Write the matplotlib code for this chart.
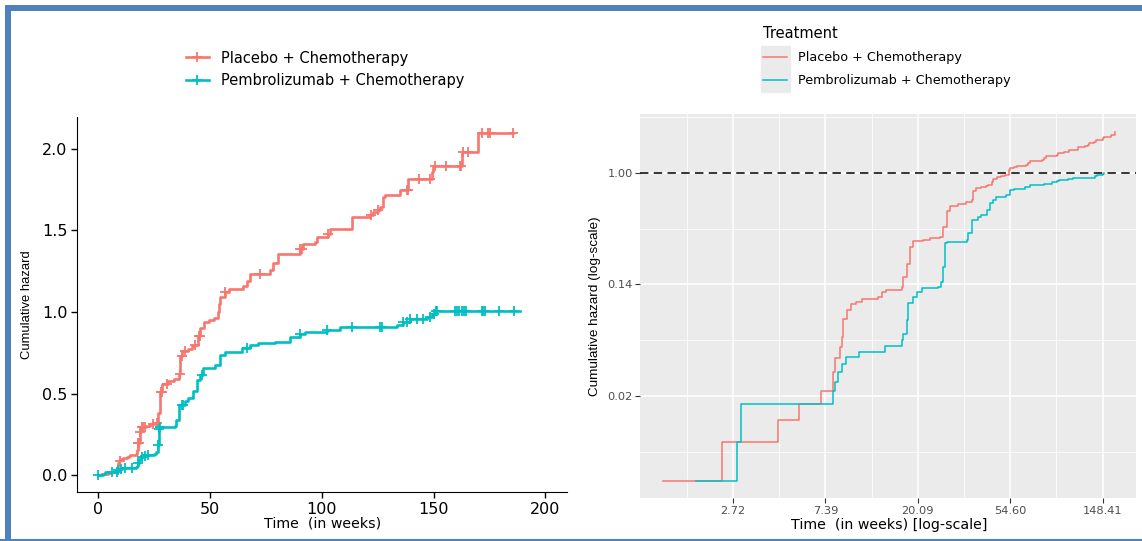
import numpy as np
import matplotlib
matplotlib.use('Agg')
import matplotlib.pyplot as plt
from matplotlib.lines import Line2D
from matplotlib.patches import Rectangle
from matplotlib.ticker import NullFormatter

plt.rcParams['font.family'] = 'DejaVu Sans'
narrow = ['Liberation Sans Narrow', 'Liberation Sans', 'DejaVu Sans']

red = '#F8766D'
teal = '#00BFC4'
labels = ['Placebo + Chemotherapy', 'Pembrolizumab + Chemotherapy']

# event times (weeks) and cumulative hazard just after each event
placebo_t = [1.28, 2.41, 4.41, 5.53, 7.07, 8.0, 8.22, 8.66, 8.82, 8.97, 9.3, 9.77,
             10.25, 10.97, 13.0, 13.6, 14.3, 16.9, 17.2, 17.8, 18.5, 19.1, 21.3,
             22.9, 25.5, 26.5, 27.5, 28.5, 31.0, 34.0, 36.0, 36.6, 37.5, 40.0,
             42.0, 43.1, 44.7, 45.5, 47.2, 49.5, 51.5, 53.6, 54.0, 54.4, 56.6,
             58.5, 64.5, 66.5, 67.8, 76.8, 78.3, 80.5, 90.2, 91.7, 96.9, 97.7,
             102.9, 103.6, 113.3, 121.5, 123.0, 125.3, 126.0, 127.5, 128.2,
             135.0, 138.7, 149.2, 149.9, 162.6, 169.7]
placebo_h = [0.004, 0.008, 0.012, 0.016, 0.020, 0.028, 0.036, 0.044, 0.053, 0.073,
             0.086, 0.095, 0.099, 0.104, 0.108, 0.118, 0.123, 0.13, 0.154, 0.195,
             0.264, 0.297, 0.30, 0.312, 0.32, 0.378, 0.508, 0.556, 0.575, 0.59,
             0.62, 0.73, 0.76, 0.775, 0.79, 0.80, 0.85, 0.90, 0.936, 0.953, 0.965,
             1.00, 1.05, 1.09, 1.12, 1.14, 1.16, 1.19, 1.235, 1.256, 1.30, 1.358,
             1.388, 1.419, 1.43, 1.46, 1.48, 1.511, 1.583, 1.593, 1.613, 1.624,
             1.644, 1.706, 1.72, 1.75, 1.818, 1.859, 1.894, 1.98, 2.10]
pembro_t = [1.83, 2.83, 2.98, 8.05, 8.22, 8.46, 8.82, 9.23, 10.66, 14.06, 16.9,
            17.2, 17.8, 18.1, 19.1, 19.9, 21.0, 25.0, 25.9, 26.5, 26.9, 27.4,
            34.1, 34.7, 36.0, 38.7, 40.0, 42.4, 43.9, 45.3, 46.8, 52.3, 54.2,
            56.6, 64.1, 67.8, 71.5, 79.0, 85.7, 90.2, 92.4, 102.1, 108.1, 133.5,
            136.4, 139.4, 146.9, 149.2, 150.6]
pembro_h = [0.004, 0.008, 0.016, 0.020, 0.0237, 0.028, 0.0325, 0.037, 0.0405,
            0.045, 0.050, 0.056, 0.072, 0.0965, 0.109, 0.119, 0.126, 0.13, 0.142,
            0.186, 0.283, 0.292, 0.30, 0.339, 0.43, 0.457, 0.471, 0.515, 0.58,
            0.616, 0.654, 0.674, 0.737, 0.757, 0.777, 0.80, 0.812, 0.818, 0.847,
            0.867, 0.877, 0.892, 0.908, 0.918, 0.939, 0.959, 0.969, 0.99, 1.005]
# censoring times (weeks)
placebo_cens = [9.6, 17.8, 18.3, 18.8, 19.3, 20.1, 20.8, 24.5, 26.0, 27.8, 28.3,
                30.5, 36.5, 37.2, 38.7, 43.2, 44.9, 45.4, 56.6, 72.3, 90.2, 91.0,
                102.9, 122.0, 125.3, 138.0, 138.5, 143.3, 148.4, 150.5, 155.7,
                161.8, 162.3, 163.3, 165.5, 171.5, 174.5, 175.2, 185.7]
pembro_cens = [0.0, 5.9, 8.1, 8.7, 10.2, 12.0, 14.9, 17.8, 19.3, 20.8, 22.3, 26.7,
               27.0, 27.5, 37.2, 38.0, 46.2, 66.3, 90.2, 102.1, 113.3, 126.0, 126.8,
               136.4, 137.9, 139.5, 142.4, 145.4, 148.4, 150.0, 151.0, 151.4, 159.6,
               160.5, 161.5, 162.5, 163.5, 164.5, 171.5, 172.3, 173.0, 179.2, 185.9]
placebo_end = 185.7
pembro_end = 188.7

x_ticks = [0, 50, 100, 150, 200]
y_ticks = [0.0, 0.5, 1.0, 1.5, 2.0]
logx_ticks = [1, 2, 3, 4, 5]
logx_labels = ['2.72', '7.39', '20.09', '54.60', '148.41']
logy_ticks = [-4, -2, 0]
logy_labels = ['0.02', '0.14', '1.00']

W, H = 1142, 541
fig = plt.figure(figsize=(W / 100, H / 100), dpi=100)


def fbox(l, t, r, b):
    return [l / W, 1 - b / H, (r - l) / W, (b - t) / H]


def hazard_at(times, ev_t, ev_h):
    idx = np.searchsorted(ev_t, times, side='right')
    return np.concatenate([[0], ev_h])[idx]


# left panel - cumulative hazard, linear
ax1 = fig.add_axes(fbox(77, 117, 567, 492))
for ev_t, ev_h, cens, end, col in [(placebo_t, placebo_h, placebo_cens, placebo_end, red),
                                   (pembro_t, pembro_h, pembro_cens, pembro_end, teal)]:
    tt = np.concatenate([[0], ev_t, [end]])
    hh = np.concatenate([[0], ev_h, [ev_h[-1]]])
    ax1.step(tt, hh, where='post', color=col, lw=1.9)
    ax1.plot(cens, hazard_at(cens, ev_t, ev_h), ls='none', marker='+', ms=7.5, mew=1.3, color=col)
ax1.set_xlim(-9.6, 209.7)
ax1.set_ylim(-0.104, 2.196)
ax1.set_xticks(x_ticks)
ax1.set_yticks(y_ticks)
ax1.set_yticklabels(['%.1f' % v for v in y_ticks])
ax1.spines['top'].set_visible(False)
ax1.spines['right'].set_visible(False)
ax1.tick_params(direction='out', length=4, width=1, labelsize=11.5, pad=3, colors='black')
ax1.set_xlabel('Time  (in weeks)', fontsize=10.2, va='center')
ax1.xaxis.set_label_coords(0.502, -0.083)
ax1.set_ylabel('Cumulative hazard', fontsize=9.4, family=narrow, va='center')
ax1.yaxis.set_label_coords(-0.102, 0.499)

h1 = [Line2D([], [], color=red, lw=1.9, marker='+', ms=7.5, mew=1.3),
      Line2D([], [], color=teal, lw=1.9, marker='+', ms=7.5, mew=1.3)]
fig.legend(h1, labels, loc='upper left', bbox_to_anchor=(186 / W, 1 - 50.5 / H),
           frameon=False, fontsize=10.5, handlelength=1.57, handletextpad=0.8,
           labelspacing=0.52, borderpad=0, borderaxespad=0)

# right panel - log-log
ax2 = fig.add_axes(fbox(640.4, 114, 1136, 498))
ax2.set_facecolor('#EBEBEB')
ax2.set_xscale('log', base=np.e)
ax2.set_yscale('log', base=np.e)
ax2.step(placebo_t, placebo_h, where='post', color=red, lw=1.1)
ax2.step(pembro_t, pembro_h, where='post', color=teal, lw=1.1)
ax2.axhline(1, color='black', ls=(0, (5.5, 3.5)), lw=1.1)
ax2.set_xlim(np.exp(-0.002), np.exp(5.361))
ax2.set_ylim(np.exp(-5.83), np.exp(1.058))
ax2.set_xticks(np.exp(logx_ticks))
ax2.set_xticklabels(logx_labels)
ax2.set_yticks(np.exp(logy_ticks))
ax2.set_yticklabels(logy_labels)
ax2.set_xticks(np.exp(np.arange(0.5, 5.4, 1.0)), minor=True)
ax2.set_yticks(np.exp([-5, -3, -1, 1]), minor=True)
ax2.xaxis.set_minor_formatter(NullFormatter())
ax2.yaxis.set_minor_formatter(NullFormatter())
ax2.grid(which='major', color='white', lw=1.1)
ax2.grid(which='minor', color='white', lw=0.55)
ax2.set_axisbelow(True)
for s in ax2.spines.values():
    s.set_visible(False)
ax2.tick_params(which='major', direction='out', length=3.5, width=0.8, color='#333333',
                labelsize=8.2, labelcolor='#4D4D4D', pad=2)
ax2.tick_params(which='minor', length=0)
ax2.set_xlabel('Time  (in weeks) [log-scale]', fontsize=10.2, va='center')
ax2.xaxis.set_label_coords(0.5016, -0.0703)
ax2.set_ylabel('Cumulative hazard (log-scale)', fontsize=9.7, family=narrow, va='center')
ax2.yaxis.set_label_coords(-0.0926, 0.5)

fig.add_artist(Rectangle((761 / W, 1 - 92 / H), 29 / W, 46 / H, color='#EBEBEB', zorder=0))
h2 = [Line2D([], [], color=red, lw=1.1), Line2D([], [], color=teal, lw=1.1)]
fig.legend(h2, labels, loc='upper left', bbox_to_anchor=(763 / W, 1 - 26 / H),
           title='Treatment', alignment='left', frameon=False, fontsize=9.2,
           title_fontsize=10.5, handlelength=1.9, handletextpad=0.85,
           labelspacing=0.8, borderpad=0, borderaxespad=0)

# blue frame
border = '#4F81BD'
fig.add_artist(Line2D([8 / W, 8 / W], [0, 1 - 8 / H], color=border, lw=4.3))
fig.add_artist(Line2D([8 / W, 1], [1 - 8 / H, 1 - 8 / H], color=border, lw=4.3))
fig.add_artist(Line2D([0, 1], [1 - 539.5 / H, 1 - 539.5 / H], color=border, lw=1.5))

fig.savefig('out.png', dpi=100)
